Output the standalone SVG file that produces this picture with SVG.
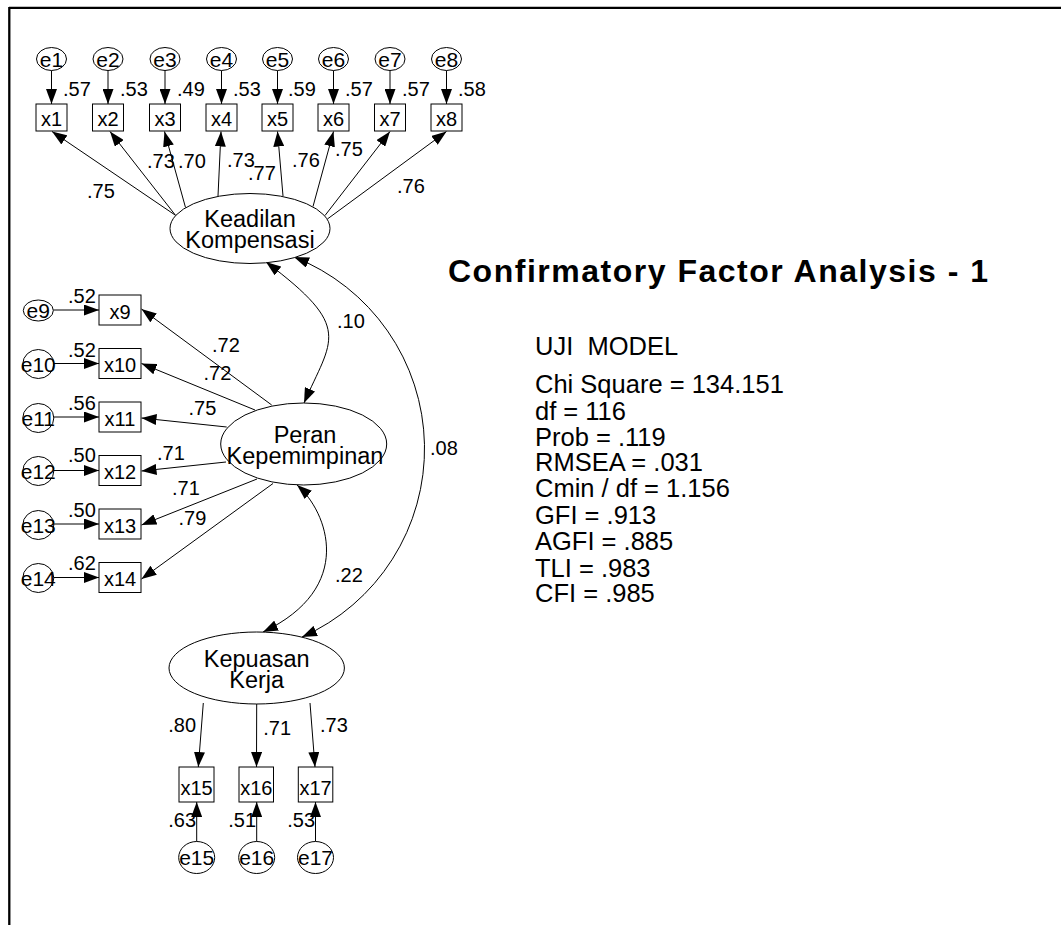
<svg xmlns="http://www.w3.org/2000/svg" width="1061" height="925" viewBox="0 0 1061 925">
<defs>
<style>
.ln{stroke:#000;stroke-width:1;fill:none;marker-end:url(#ah)}
.cv{stroke:#000;stroke-width:1;fill:none;marker-start:url(#ah);marker-end:url(#ah)}
.nd{fill:#fff;stroke:#000;stroke-width:1}
.t{font-family:"Liberation Sans",Arial,sans-serif;fill:#000}
.ob{font-size:20px;text-anchor:middle}
.er{font-size:21px;text-anchor:middle}
.lt{font-size:23.5px;text-anchor:middle}
.pl{font-size:20px}
.st{font-size:25.5px}
</style>
<marker id="ah" viewBox="0 0 15 11" refX="15" refY="5.5" markerWidth="15" markerHeight="11" markerUnits="userSpaceOnUse" orient="auto-start-reverse">
<path d="M0,0 L15,5.5 L0,11 z" fill="#000"/>
</marker>
</defs>
<rect width="1061" height="925" fill="#fff"/>
<g id="frame" stroke="#000" stroke-width="2.3" fill="none">
<line x1="9" y1="7.8" x2="1061" y2="7.8"/>
<line x1="9.3" y1="7" x2="9.3" y2="925"/>
</g>

<g id="connectors">
<!-- errors to top indicators -->
<line class="ln" x1="51.5" y1="70.5" x2="51.5" y2="104"/>
<line class="ln" x1="108" y1="70.5" x2="108" y2="104"/>
<line class="ln" x1="165" y1="70.5" x2="165" y2="104"/>
<line class="ln" x1="221.5" y1="70.5" x2="221.5" y2="104"/>
<line class="ln" x1="277.5" y1="70.5" x2="277.5" y2="104"/>
<line class="ln" x1="333.5" y1="70.5" x2="333.5" y2="104"/>
<line class="ln" x1="390" y1="70.5" x2="390" y2="104"/>
<line class="ln" x1="446.5" y1="70.5" x2="446.5" y2="104"/>
<!-- Keadilan to x1..x8 -->
<line class="ln" x1="175.5" y1="215.3" x2="52" y2="131.5"/>
<line class="ln" x1="175.5" y1="215.3" x2="110" y2="131.5"/>
<line class="ln" x1="185.5" y1="207.5" x2="164.5" y2="131.5"/>
<line class="ln" x1="218" y1="196" x2="221" y2="131.5"/>
<line class="ln" x1="283" y1="196" x2="277.5" y2="131.5"/>
<line class="ln" x1="313" y1="206.5" x2="333.5" y2="131.5"/>
<line class="ln" x1="325" y1="215.5" x2="390" y2="131.5"/>
<line class="ln" x1="327.4" y1="219" x2="446.5" y2="131.5"/>
<!-- errors to left indicators -->
<line class="ln" x1="53.3" y1="310" x2="99" y2="310"/>
<line class="ln" x1="53.8" y1="363.5" x2="99" y2="363.5"/>
<line class="ln" x1="53.8" y1="417" x2="99" y2="417"/>
<line class="ln" x1="53.8" y1="470.5" x2="99" y2="470.5"/>
<line class="ln" x1="53.8" y1="524" x2="99" y2="524"/>
<line class="ln" x1="53.8" y1="577.5" x2="99" y2="577.5"/>
<!-- Peran to x9..x14 -->
<line class="ln" x1="271.7" y1="405" x2="141.5" y2="309"/>
<line class="ln" x1="255" y1="410" x2="141.5" y2="363.5"/>
<line class="ln" x1="226.7" y1="427" x2="141.5" y2="418"/>
<line class="ln" x1="226" y1="462" x2="141.5" y2="471"/>
<line class="ln" x1="257" y1="479" x2="141.5" y2="525"/>
<line class="ln" x1="273" y1="483.5" x2="141.5" y2="579"/>
<!-- Kepuasan to x15..x17 -->
<line class="ln" x1="203.3" y1="703" x2="198.3" y2="767"/>
<line class="ln" x1="256.7" y1="704" x2="256.5" y2="767"/>
<line class="ln" x1="310" y1="703" x2="315" y2="767"/>
<!-- errors to bottom indicators -->
<line class="ln" x1="196.7" y1="841.5" x2="196.7" y2="802"/>
<line class="ln" x1="256.7" y1="841.5" x2="256.7" y2="802"/>
<line class="ln" x1="315.5" y1="841.5" x2="315.5" y2="802"/>
<!-- covariances -->
<path class="cv" d="M266,262 C354,328 332,338.6 304,403"/>
<path class="cv" d="M294,257 A206,206 0 0 1 302,637"/>
<path class="cv" d="M297,485 C328,512 356,588 263,632"/>
</g>

<g id="path-labels" class="t pl">
<text x="63" y="96">.57</text>
<text x="120" y="96">.53</text>
<text x="177" y="96">.49</text>
<text x="233" y="96">.53</text>
<text x="288" y="96">.59</text>
<text x="345" y="96">.57</text>
<text x="402" y="96">.57</text>
<text x="458" y="96">.58</text>
<text x="87" y="198">.75</text>
<text x="147" y="168">.73</text>
<text x="178" y="168">.70</text>
<text x="227" y="167">.73</text>
<text x="248" y="180">.77</text>
<text x="292" y="167">.76</text>
<text x="335" y="156">.75</text>
<text x="397" y="193">.76</text>
<text x="68" y="303">.52</text>
<text x="68" y="357">.52</text>
<text x="68" y="410">.56</text>
<text x="68" y="462">.50</text>
<text x="68" y="517">.50</text>
<text x="68" y="570">.62</text>
<text x="212" y="352">.72</text>
<text x="203.5" y="380">.72</text>
<text x="188.5" y="415">.75</text>
<text x="157" y="460">.71</text>
<text x="172" y="495">.71</text>
<text x="178.5" y="525">.79</text>
<text x="168.3" y="732">.80</text>
<text x="263.3" y="735">.71</text>
<text x="320" y="732">.73</text>
<text x="168.3" y="827">.63</text>
<text x="228.3" y="827">.51</text>
<text x="287.3" y="827">.53</text>
<text x="337" y="328">.10</text>
<text x="430" y="455">.08</text>
<text x="335" y="582">.22</text>
</g>

<!-- latent variables -->
<g id="keadilan">
<ellipse class="nd" cx="250" cy="228.5" rx="80" ry="35"/>
<text class="t lt" x="250" y="226.7">Keadilan</text>
<text class="t lt" x="250" y="248">Kompensasi</text>
</g>
<g id="peran">
<ellipse class="nd" cx="303.7" cy="444" rx="83" ry="41"/>
<text class="t lt" x="305" y="443">Peran</text>
<text class="t lt" x="305" y="463.5">Kepemimpinan</text>
</g>
<g id="kepuasan">
<ellipse class="nd" cx="256.7" cy="668" rx="87.7" ry="36"/>
<text class="t lt" x="256.7" y="666.7">Kepuasan</text>
<text class="t lt" x="256.7" y="688.3">Kerja</text>
</g>

<!-- top errors and indicators -->
<g id="e1"><ellipse class="nd" cx="51.5" cy="59" rx="15" ry="11.5"/><text class="t er" x="51.5" y="66.5">e1</text></g>
<g id="e2"><ellipse class="nd" cx="108" cy="59" rx="15" ry="11.5"/><text class="t er" x="108" y="66.5">e2</text></g>
<g id="e3"><ellipse class="nd" cx="165" cy="59" rx="15" ry="11.5"/><text class="t er" x="165" y="66.5">e3</text></g>
<g id="e4"><ellipse class="nd" cx="221.5" cy="59" rx="15" ry="11.5"/><text class="t er" x="221.5" y="66.5">e4</text></g>
<g id="e5"><ellipse class="nd" cx="277.5" cy="59" rx="15" ry="11.5"/><text class="t er" x="277.5" y="66.5">e5</text></g>
<g id="e6"><ellipse class="nd" cx="333.5" cy="59" rx="15" ry="11.5"/><text class="t er" x="333.5" y="66.5">e6</text></g>
<g id="e7"><ellipse class="nd" cx="390" cy="59" rx="15" ry="11.5"/><text class="t er" x="390" y="66.5">e7</text></g>
<g id="e8"><ellipse class="nd" cx="446.5" cy="59" rx="15" ry="11.5"/><text class="t er" x="446.5" y="66.5">e8</text></g>

<g id="x1"><rect class="nd" x="36" y="104" width="31" height="27"/><text class="t ob" x="51.5" y="126">x1</text></g>
<g id="x2"><rect class="nd" x="92.5" y="104" width="31" height="27"/><text class="t ob" x="108" y="126">x2</text></g>
<g id="x3"><rect class="nd" x="149.5" y="104" width="31" height="27"/><text class="t ob" x="165" y="126">x3</text></g>
<g id="x4"><rect class="nd" x="206" y="104" width="31" height="27"/><text class="t ob" x="221.5" y="126">x4</text></g>
<g id="x5"><rect class="nd" x="262" y="104" width="31" height="27"/><text class="t ob" x="277.5" y="126">x5</text></g>
<g id="x6"><rect class="nd" x="318" y="104" width="31" height="27"/><text class="t ob" x="333.5" y="126">x6</text></g>
<g id="x7"><rect class="nd" x="374.5" y="104" width="31" height="27"/><text class="t ob" x="390" y="126">x7</text></g>
<g id="x8"><rect class="nd" x="431" y="104" width="31" height="27"/><text class="t ob" x="446.5" y="126">x8</text></g>

<!-- left errors and indicators -->
<g id="e9"><ellipse class="nd" cx="38.3" cy="310.5" rx="15" ry="10.5"/><text class="t er" x="38.3" y="318">e9</text></g>
<g id="e10"><ellipse class="nd" cx="38.3" cy="364" rx="15.5" ry="14.5"/><text class="t er" x="38.3" y="371.5">e10</text></g>
<g id="e11"><ellipse class="nd" cx="38.3" cy="418" rx="15.5" ry="14.5"/><text class="t er" x="38.3" y="425.5">e11</text></g>
<g id="e12"><ellipse class="nd" cx="38.3" cy="471" rx="15.5" ry="14.5"/><text class="t er" x="38.3" y="478.5">e12</text></g>
<g id="e13"><ellipse class="nd" cx="38.3" cy="525" rx="15.5" ry="14.5"/><text class="t er" x="38.3" y="532.5">e13</text></g>
<g id="e14"><ellipse class="nd" cx="38.3" cy="578" rx="15.5" ry="14.5"/><text class="t er" x="38.3" y="585.5">e14</text></g>

<g id="x9"><rect class="nd" x="99" y="295" width="42" height="30"/><text class="t ob" x="120" y="318.5">x9</text></g>
<g id="x10"><rect class="nd" x="99" y="348.5" width="42" height="30"/><text class="t ob" x="120" y="372">x10</text></g>
<g id="x11"><rect class="nd" x="99" y="402" width="42" height="30"/><text class="t ob" x="120" y="425.5">x11</text></g>
<g id="x12"><rect class="nd" x="99" y="455.5" width="42" height="30"/><text class="t ob" x="120" y="479">x12</text></g>
<g id="x13"><rect class="nd" x="99" y="509" width="42" height="30"/><text class="t ob" x="120" y="532.5">x13</text></g>
<g id="x14"><rect class="nd" x="99" y="562.5" width="42" height="30"/><text class="t ob" x="120" y="586">x14</text></g>

<!-- bottom indicators and errors -->
<g id="x15"><rect class="nd" x="179" y="767" width="35" height="35" /><text class="t ob" x="196.5" y="794.5">x15</text></g>
<g id="x16"><rect class="nd" x="239" y="767" width="34.5" height="35"/><text class="t ob" x="256.3" y="794.5">x16</text></g>
<g id="x17"><rect class="nd" x="298.3" y="767" width="34.5" height="35"/><text class="t ob" x="315.5" y="794.5">x17</text></g>
<g id="e15"><ellipse class="nd" cx="196.7" cy="857.5" rx="18" ry="16"/><text class="t er" x="196.7" y="865">e15</text></g>
<g id="e16"><ellipse class="nd" cx="256.7" cy="857.5" rx="18" ry="16"/><text class="t er" x="256.7" y="865">e16</text></g>
<g id="e17"><ellipse class="nd" cx="315.5" cy="857.5" rx="18" ry="16"/><text class="t er" x="315.5" y="865">e17</text></g>

<g id="title">
<text class="t" x="448" y="281.5" font-size="32" font-weight="bold" textLength="540" lengthAdjust="spacing">Confirmatory Factor Analysis - 1</text>
</g>
<g id="fit-stats" class="t st">
<text x="535" y="355" style="white-space:pre">UJI  MODEL</text>
<text x="535" y="393">Chi Square = 134.151</text>
<text x="535" y="420">df = 116</text>
<text x="535" y="445.5">Prob = .119</text>
<text x="535" y="471">RMSEA = .031</text>
<text x="535" y="497">Cmin / df = 1.156</text>
<text x="535" y="524">GFI = .913</text>
<text x="535" y="550">AGFI = .885</text>
<text x="535" y="576.5">TLI = .983</text>
<text x="535" y="602">CFI = .985</text>
</g>
</svg>
